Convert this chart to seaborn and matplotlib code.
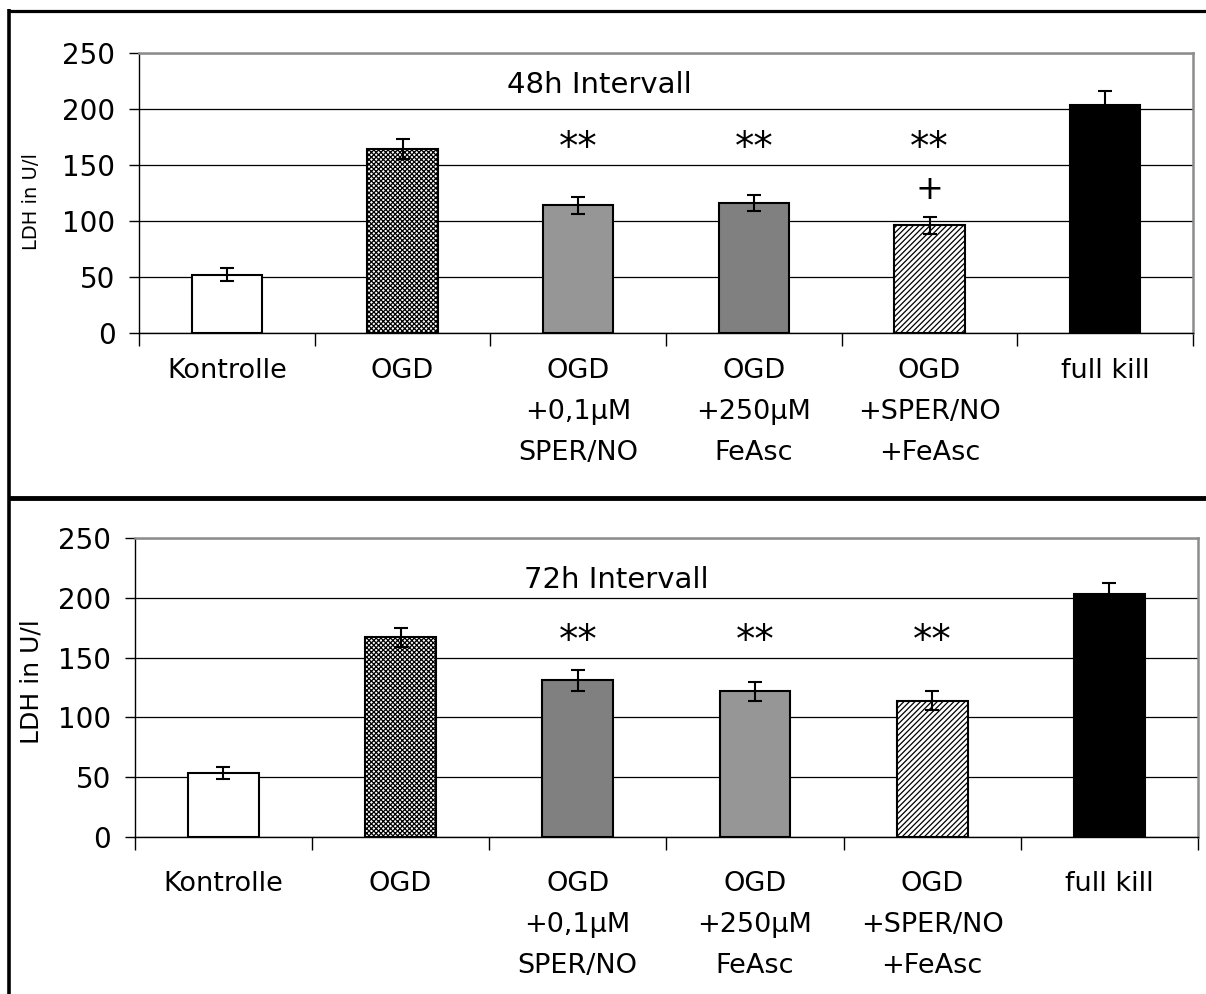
import matplotlib
matplotlib.use("Agg")
import matplotlib.pyplot as plt
import seaborn as sns
import pandas as pd
from matplotlib.lines import Line2D
from matplotlib.ticker import FixedLocator

categories = ["Kontrolle", "OGD", "OGD\n+0,1µM\nSPER/NO", "OGD\n+250µM\nFeAsc",
              "OGD\n+SPER/NO\n+FeAsc", "full kill"]

vals_48 = [52, 164, 114, 116, 96, 204]
err_48 = [6, 9, 7.5, 7.5, 7.5, 12]
stars_48 = ["", "", "**", "**", "**", ""]
plus_48 = ["", "", "", "", "+", ""]

vals_72 = [53, 167, 131, 122, 114, 203]
err_72 = [5, 8, 9, 8, 8, 10]
stars_72 = ["", "", "**", "**", "**", ""]

title_48 = "48h Intervall"
title_72 = "72h Intervall"
ylabel = "LDH in U/l"
yticks = [0, 50, 100, 150, 200, 250]

face_48 = ["white", "white", "#969696", "#808080", "white", "black"]
face_72 = ["white", "white", "#808080", "#969696", "white", "black"]
hatches = ["", "xxxxxxx", "", "", "//////", ""]

sns.set_theme(style="white")
plt.rcParams["font.family"] = ["DejaVu Sans"]
plt.rcParams["hatch.linewidth"] = 0.9
plt.rcParams["text.color"] = "black"
plt.rcParams["axes.labelcolor"] = "black"
plt.rcParams["xtick.color"] = "black"
plt.rcParams["ytick.color"] = "black"

fig = plt.figure(figsize=(12.06, 9.94), dpi=100)

def panel(rect, vals, errs, faces, title, title_xy, stars, star_y, plus, plus_y,
          ylab_size, ylab_pos, xpad):
    ax = fig.add_axes(rect)
    df = pd.DataFrame({"cat": categories, "val": vals})
    sns.barplot(data=df, x="cat", y="val", hue="cat", order=categories,
                hue_order=categories, palette=dict(zip(categories, faces)),
                width=0.4, edgecolor="black", linewidth=1.5, legend=False,
                errorbar=None, ax=ax, saturation=1)
    for p, h in zip(ax.patches, hatches):
        if h:
            p.set_hatch(h)
    ax.errorbar(range(len(categories)), vals, yerr=errs, fmt="none",
                ecolor="black", elinewidth=1.5, capsize=5, capthick=1.5, zorder=5)
    ax.set_ylim(0, 250)
    ax.set_xlim(-0.5, len(categories) - 0.5)
    ax.set_yticks(yticks)
    ax.set_axisbelow(True)
    ax.yaxis.grid(True, color="black", linewidth=0.9)
    ax.xaxis.grid(False)
    ax.set_xlabel("")
    ax.set_ylabel(ylabel, fontsize=ylab_size, color="black")
    ax.yaxis.set_label_coords(*ylab_pos)
    ax.tick_params(axis="y", labelsize=20, length=7, width=1, direction="out",
                   left=True, pad=10, colors="black")
    ax.tick_params(axis="x", which="major", labelsize=19.5, length=0, pad=xpad,
                   labelcolor="black")
    for lab in ax.get_xticklabels():
        lab.set_linespacing(1.75)
    ax.xaxis.set_minor_locator(FixedLocator([i - 0.5 for i in range(len(categories) + 1)]))
    ax.tick_params(axis="x", which="minor", bottom=True, length=9, width=1,
                   direction="out", color="black")
    for s in ["left", "bottom"]:
        ax.spines[s].set_color("black")
        ax.spines[s].set_linewidth(1)
    for s in ["top", "right"]:
        ax.spines[s].set_color("#8c8c8c")
        ax.spines[s].set_linewidth(1.8)
    ax.text(title_xy[0], title_xy[1], title, fontsize=21, ha="center", va="center",
            color="black")
    for i, s in enumerate(stars):
        if s:
            ax.text(i, star_y, s, fontsize=28, ha="center", va="center", color="black")
    for i, s in enumerate(plus):
        if s:
            ax.text(i, plus_y, s, fontsize=24, ha="center", va="center", color="black")
    return ax

panel([139 / 1206, 1 - 333 / 994, 1054 / 1206, 280 / 994], vals_48, err_48, face_48,
      title_48, (2.12, 221), stars_48, 165, plus_48, 128, 14, (-0.093, 0.47), 18)
panel([134.7 / 1206, 1 - 836.7 / 994, 1063.3 / 1206, 298.3 / 994], vals_72, err_72,
      face_72, title_72, (2.22, 215), stars_72, 164, ["" for _ in categories], 0,
      18, (-0.086, 0.52), 25)

# outer frame lines
fig.add_artist(Line2D([8 / 1206, 1.0], [1 - 10.5 / 994] * 2, transform=fig.transFigure,
                      color="black", linewidth=2.3, solid_capstyle="butt"))
fig.add_artist(Line2D([9 / 1206] * 2, [0, 1 - 9 / 994], transform=fig.transFigure,
                      color="black", linewidth=2.6, solid_capstyle="butt"))
fig.add_artist(Line2D([8 / 1206, 1.0], [1 - 498 / 994] * 2, transform=fig.transFigure,
                      color="black", linewidth=3.5, solid_capstyle="butt"))

fig.savefig("out.png", dpi=100, facecolor="white")
